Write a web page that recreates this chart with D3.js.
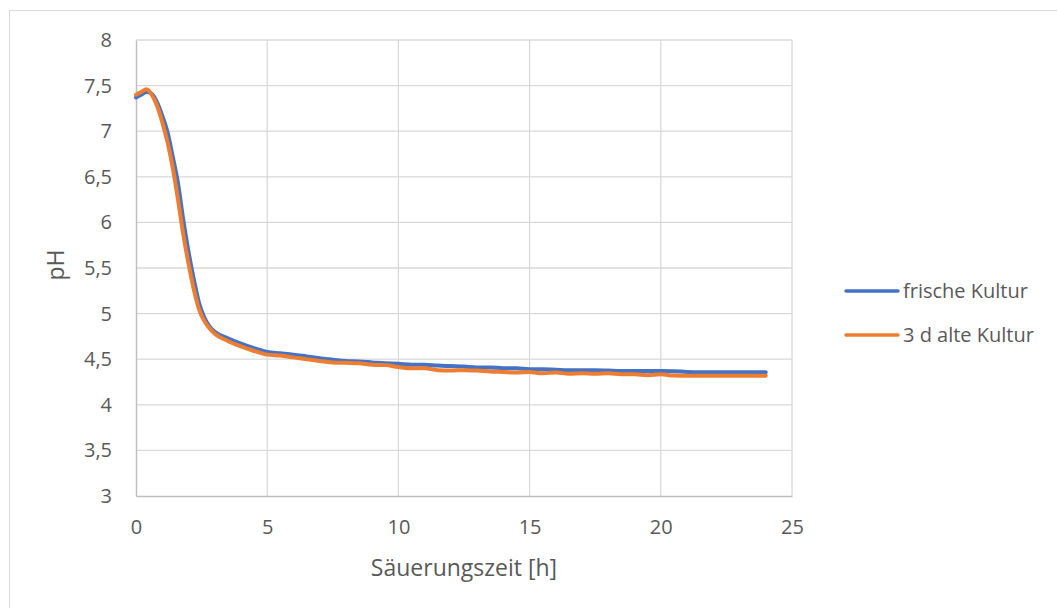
<!DOCTYPE html>
<html>
<head>
<meta charset="utf-8">
<script src="https://cdn.jsdelivr.net/npm/d3@7"></script>
<style>
  html, body { margin: 0; padding: 0; background: #fff; }
  svg { display: block; }
  text { font-family: "Open Sans", "Liberation Sans", sans-serif; fill: #595959; }
</style>
</head>
<body>
<svg id="chart" width="1057" height="608"></svg>
<script>
// ---- data ----
const hours = [0,0.2,0.4,0.6,0.8,1.0,1.2,1.4,1.6,1.8,2.0,2.2,2.4,2.6,2.8,3.0,
  3.5,4,4.5,5,5.5,6,6.5,7,7.5,8,8.5,9,9.5,10,10.5,11,11.5,12,12.5,13,13.5,14,14.5,15,
  15.5,16,16.5,17,17.5,18,18.5,19,19.5,20,20.5,21,21.5,22,22.5,23,23.5,24];
const frischeKultur = [7.37,7.40,7.43,7.41,7.32,7.17,6.99,6.72,6.43,6.03,5.68,5.38,5.12,4.96,4.86,4.80,
  4.73,4.67,4.62,4.58,4.565,4.55,4.53,4.51,4.495,4.48,4.475,4.465,4.455,4.45,4.44,4.44,4.43,4.425,4.42,4.41,4.41,4.40,4.40,4.39,
  4.39,4.385,4.38,4.38,4.38,4.375,4.37,4.37,4.37,4.37,4.368,4.36,4.358,4.358,4.358,4.358,4.358,4.358];
const alteKultur = [7.40,7.43,7.46,7.40,7.28,7.10,6.88,6.60,6.25,5.87,5.55,5.27,5.05,4.92,4.84,4.78,
  4.70,4.64,4.59,4.55,4.54,4.52,4.50,4.48,4.465,4.46,4.455,4.44,4.435,4.415,4.40,4.40,4.38,4.375,4.38,4.375,4.365,4.36,4.355,4.36,
  4.345,4.355,4.34,4.345,4.34,4.345,4.335,4.335,4.325,4.335,4.32,4.318,4.318,4.318,4.318,4.318,4.318,4.318];
const seriesNames = ["frische Kultur", "3 d alte Kultur"];
const seriesColors = ["#4472C4", "#ED7D31"];
const xTicks = [0,5,10,15,20,25];
const yTicks = [3,3.5,4,4.5,5,5.5,6,6.5,7,7.5,8];
const xTitle = "Säuerungszeit [h]";
const yTitle = "pH";

// ---- layout ----
const svg = d3.select("#chart");
const plot = {left: 136, right: 792, top: 40, bottom: 496};
const x = d3.scaleLinear().domain([0, 25]).range([plot.left, plot.right]);
const y = d3.scaleLinear().domain([3, 8]).range([plot.bottom, plot.top]);
const fmt = d => String(d).replace(".", ",");

// outer chart border
svg.append("rect").attr("x", 9.5).attr("y", 10.5).attr("width", 1100).attr("height", 700)
  .attr("fill", "#fff").attr("stroke", "#d9d9d9").attr("stroke-width", 1);

// gridlines
svg.append("g").selectAll("line").data(yTicks.filter(d => d > 3)).join("line")
  .attr("x1", plot.left).attr("x2", plot.right)
  .attr("y1", d => y(d)).attr("y2", d => y(d))
  .attr("stroke", "#d9d9d9").attr("stroke-width", 1.3);
svg.append("g").selectAll("line").data(xTicks.filter(d => d > 0)).join("line")
  .attr("y1", plot.top).attr("y2", plot.bottom)
  .attr("x1", d => x(d)).attr("x2", d => x(d))
  .attr("stroke", "#d9d9d9").attr("stroke-width", 1.3);

// axes via d3
const xAxis = svg.append("g").attr("transform", `translate(0,${plot.bottom})`)
  .call(d3.axisBottom(x).tickValues(xTicks).tickFormat(fmt).tickSize(0).tickPadding(24));
const yAxis = svg.append("g").attr("transform", `translate(${plot.left},0)`)
  .call(d3.axisLeft(y).tickValues(yTicks).tickFormat(fmt).tickSize(0).tickPadding(24));
[xAxis, yAxis].forEach(a => {
  a.select(".domain").attr("stroke", "#bfbfbf").attr("stroke-width", 1.5);
  a.selectAll("text").style("font-size", "20px").attr("fill", "#595959")
    .style("font-family", "'Open Sans', sans-serif");
});

// lines
const seriesData = [frischeKultur, alteKultur];
const line = d3.line().x((d, i) => x(hours[i])).y(d => y(d)).curve(d3.curveMonotoneX);
seriesData.forEach((vals, k) => {
  svg.append("path").datum(vals).attr("d", line)
    .attr("fill", "none").attr("stroke", seriesColors[k])
    .attr("stroke-width", 4).attr("stroke-linejoin", "round").attr("stroke-linecap", "round");
});

// axis titles
svg.append("text").attr("x", (plot.left + plot.right) / 2).attr("y", 576)
  .attr("text-anchor", "middle").style("font-size", "23px").text(xTitle);
svg.append("text").attr("transform", "translate(64,265) rotate(-90)")
  .attr("text-anchor", "middle").style("font-size", "23px").text(yTitle);

// legend
const legend = svg.append("g");
seriesNames.forEach((name, k) => {
  const ly = 291 + k * 44;
  legend.append("line").attr("x1", 846).attr("x2", 898).attr("y1", ly).attr("y2", ly)
    .attr("stroke", seriesColors[k]).attr("stroke-width", 3.5).attr("stroke-linecap", "round");
  legend.append("text").attr("x", 903).attr("y", ly).attr("dy", "0.35em")
    .style("font-size", "20px").text(name);
});
</script>
</body>
</html>
